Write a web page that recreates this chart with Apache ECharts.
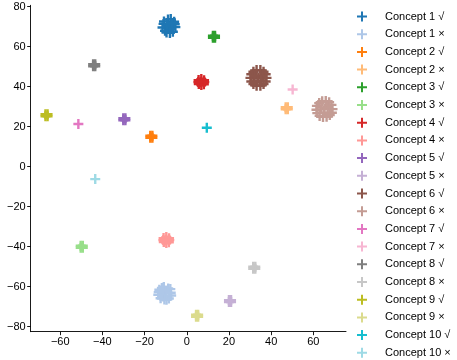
<!DOCTYPE html>
<html><head><meta charset="utf-8">
<script src="https://cdn.jsdelivr.net/npm/echarts@6/dist/echarts.min.js"></script>
<style>html,body{margin:0;padding:0;background:#fff}#c{width:457px;height:360px}</style>
</head><body><div id="c"></div>
<script>
const names = ["Concept 1 √","Concept 1 ×","Concept 2 √","Concept 2 ×","Concept 3 √","Concept 3 ×","Concept 4 √","Concept 4 ×","Concept 5 √","Concept 5 ×","Concept 6 √","Concept 6 ×","Concept 7 √","Concept 7 ×","Concept 8 √","Concept 8 ×","Concept 9 √","Concept 9 ×","Concept 10 √","Concept 10 ×"];
const colors = ["#1f77b4","#aec7e8","#ff7f0e","#ffbb78","#2ca02c","#98df8a","#d62728","#ff9896","#9467bd","#c5b0d5","#8c564b","#c49c94","#e377c2","#f7b6d2","#7f7f7f","#c7c7c7","#bcbd22","#dbdb8d","#17becf","#9edae5"];
const xTicks = [-60,-40,-20,0,20,40,60];
const yTicks = [-80,-60,-40,-20,0,20,40,60,80];

const c1y = [[-8.4,70.4],[-6.0,72.5],[-10.8,72.6],[-5.4,69.8],[-11.5,69.6],[-7.6,73.8],[-9.6,67.1],[-6.6,67.5],[-10.3,68.0],[-8.9,73.6],[-5.7,71.2],[-11.0,71.4],[-7.5,69.0],[-9.3,71.1],[-8.0,66.9],[-7.0,71.8]];
const c1n = [[-10.4,-63.3],[-7.8,-61.2],[-13.0,-61.5],[-7.4,-64.4],[-13.5,-64.0],[-10.9,-60.1],[-9.6,-66.5],[-12.4,-65.8],[-8.5,-65.9],[-11.8,-60.6],[-8.8,-60.9],[-13.3,-62.7],[-10.0,-62.0],[-11.2,-64.9],[-7.6,-63.0],[-10.6,-66.4]];
const c2y = [[-17.3,15.5],[-16.3,15.5],[-17.3,14.5],[-16.3,14.5]];
const c2n = [[46.9,29.7],[47.9,29.7],[46.9,28.7],[47.9,28.7]];
const c3y = [[12.4,65.5],[13.4,65.5],[12.4,64.5],[13.4,64.5]];
const c3n = [[-50.3,-39.5],[-49.3,-39.5],[-50.3,-40.5],[-49.3,-40.5]];
const c4y = [[6.9,42.3],[8.2,43.2],[5.6,43.3],[8.1,41.2],[5.7,41.3],[6.9,43.8],[6.9,40.8],[8.3,42.3],[5.5,42.3]];
const c4n = [[-9.7,-36.7],[-8.4,-35.8],[-11.0,-35.7],[-8.5,-37.8],[-10.9,-37.7],[-9.7,-35.2],[-9.7,-38.2],[-8.3,-36.7],[-11.1,-36.7]];
const c5y = [[-30.1,24.2],[-29.1,24.2],[-30.1,23.2],[-29.1,23.2]];
const c5n = [[20.0,-66.7],[21.0,-66.7],[20.0,-67.7],[21.0,-67.7]];
const c6y = [[37.8,44.4],[37.4,46.2],[36.4,47.5],[34.9,48.3],[33.1,48.3],[31.6,47.5],[30.6,46.2],[30.2,44.4],[30.6,42.6],[31.6,41.3],[33.1,40.5],[34.9,40.5],[36.4,41.3],[37.4,42.6],[34.0,44.4],[35.8,45.5],[32.2,45.3],[33.5,42.5],[35.2,43.0]];
const c6n = [[69.1,28.8],[68.6,30.9],[67.5,32.2],[65.9,32.8],[64.2,32.7],[62.8,31.8],[61.7,30.4],[61.5,28.5],[61.9,26.8],[63.0,25.4],[64.6,24.9],[66.3,25.0],[67.8,25.8],[68.8,27.0],[65.3,28.8],[66.8,29.9],[63.8,29.6],[65.0,27.0]];
const c7y = [[-51.4,21.35]];
const c7n = [[50.2,38.6]];
const c8y = [[-44.4,51.2],[-43.4,51.2],[-44.4,50.2],[-43.4,50.2]];
const c8n = [[31.5,-50.0],[32.5,-50.0],[31.5,-51.0],[32.5,-51.0]];
const c9y = [[-67.0,26.2],[-66.0,26.2],[-67.0,25.2],[-66.0,25.2]];
const c9n = [[4.4,-74.0],[5.4,-74.0],[4.4,-75.0],[5.4,-75.0]];
const c10y = [[9.5,19.5]];
const c10n = [[-43.4,-6.2]];
const allData = [c1y,c1n,c2y,c2n,c3y,c3n,c4y,c4n,c5y,c5n,c6y,c6n,c7y,c7n,c8y,c8n,c9y,c9n,c10y,c10n];

const plus = 'path://M3.8,0H6.2V3.8H10V6.2H6.2V10H3.8V6.2H0V3.8H3.8Z';
const plusThin = 'path://M4,0H6V4H10V6H6V10H4V6H0V4H4Z';
const FONT = 'Liberation Sans';
const minus = v => String(v).replace('-', '\u2212');

const chart = echarts.init(document.getElementById('c'), null, {renderer:'canvas'});
chart.setOption({
  animation:false,
  grid:{left:30.7, right:111, top:5.3, bottom:28.3, containLabel:false},
  xAxis:{type:'value', min:-74, max:75.5, splitLine:{show:false},
    axisLine:{show:true, onZero:false, lineStyle:{color:'#000', width:0.9}},
    axisTick:{show:true, length:3.5, lineStyle:{color:'#000', width:0.9}, customValues:xTicks},
    axisLabel:{color:'#000', fontSize:11, fontFamily:FONT, margin:5, customValues:xTicks, formatter:minus}},
  yAxis:{type:'value', min:-82.5, max:80.7, splitLine:{show:false},
    axisLine:{show:true, onZero:false, lineStyle:{color:'#000', width:0.9}},
    axisTick:{show:true, length:3.5, lineStyle:{color:'#000', width:0.9}, customValues:yTicks},
    axisLabel:{color:'#000', fontSize:11, fontFamily:FONT, margin:5, customValues:yTicks, formatter:minus}},
  legend:{orient:'vertical', left:357, top:11, itemWidth:10, itemHeight:10, itemGap:6.7, padding:0,
    icon:plusThin,
    textStyle:{color:'#000', fontSize:11, fontFamily:FONT, padding:[0,0,0,13]},
    data:names},
  series: names.map((n,i)=>({name:n, type:'scatter', data:allData[i], symbol:plus, symbolSize:10,
    itemStyle:{color:colors[i], opacity:1}, emphasis:{disabled:true}}))
});
</script></body></html>
